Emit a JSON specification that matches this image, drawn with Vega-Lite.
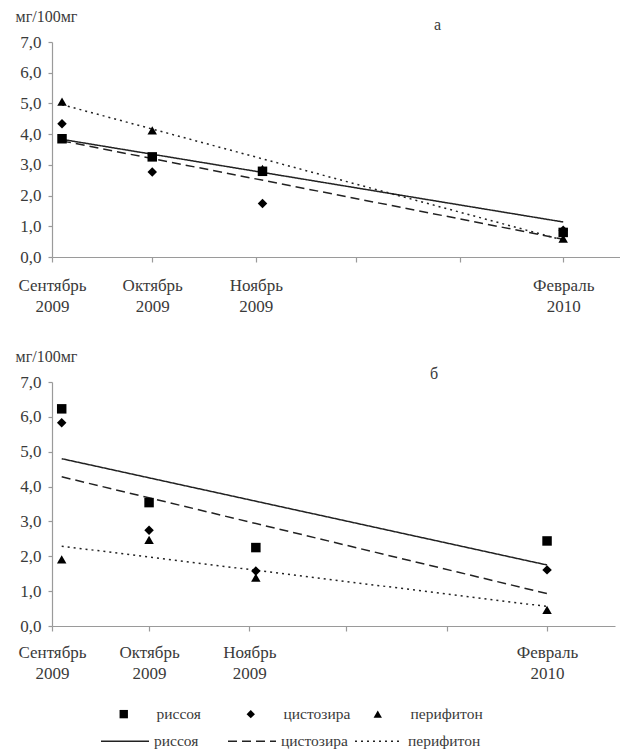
{
  "$schema": "https://vega.github.io/schema/vega-lite/v6.json",
  "background": "white",
  "padding": {"left": 15, "top": 8, "right": 0, "bottom": 0},
  "datasets": {
    "pts": [
      {"panel": "а", "species": "риссоя", "day": 3, "value": 3.85},
      {"panel": "а", "species": "риссоя", "day": 30, "value": 3.26},
      {"panel": "а", "species": "риссоя", "day": 63, "value": 2.79},
      {"panel": "а", "species": "риссоя", "day": 153, "value": 0.8},
      {"panel": "а", "species": "цистозира", "day": 3, "value": 4.34},
      {"panel": "а", "species": "цистозира", "day": 30, "value": 2.77},
      {"panel": "а", "species": "цистозира", "day": 63, "value": 1.74},
      {"panel": "а", "species": "цистозира", "day": 153, "value": 0.87},
      {"panel": "а", "species": "перифитон", "day": 3, "value": 5.06},
      {"panel": "а", "species": "перифитон", "day": 30, "value": 4.12},
      {"panel": "а", "species": "перифитон", "day": 63, "value": 2.87},
      {"panel": "а", "species": "перифитон", "day": 153, "value": 0.6},
      {"panel": "б", "species": "риссоя", "day": 3, "value": 6.23},
      {"panel": "б", "species": "риссоя", "day": 30, "value": 3.54},
      {"panel": "б", "species": "риссоя", "day": 63, "value": 2.25},
      {"panel": "б", "species": "риссоя", "day": 153, "value": 2.44},
      {"panel": "б", "species": "цистозира", "day": 3, "value": 5.83},
      {"panel": "б", "species": "цистозира", "day": 30, "value": 2.75},
      {"panel": "б", "species": "цистозира", "day": 63, "value": 1.58},
      {"panel": "б", "species": "цистозира", "day": 153, "value": 1.61},
      {"panel": "б", "species": "перифитон", "day": 3, "value": 1.91},
      {"panel": "б", "species": "перифитон", "day": 30, "value": 2.47},
      {"panel": "б", "species": "перифитон", "day": 63, "value": 1.39},
      {"panel": "б", "species": "перифитон", "day": 153, "value": 0.46}
    ],
    "trend": [
      {"panel": "а", "series": "риссоя (тренд)", "day": 3, "value": 3.83},
      {"panel": "а", "series": "риссоя (тренд)", "day": 153, "value": 1.14},
      {"panel": "а", "series": "цистозира (тренд)", "day": 3, "value": 3.78},
      {"panel": "а", "series": "цистозира (тренд)", "day": 153, "value": 0.58},
      {"panel": "а", "series": "перифитон (тренд)", "day": 3, "value": 4.96},
      {"panel": "а", "series": "перифитон (тренд)", "day": 153, "value": 0.55},
      {"panel": "б", "series": "риссоя (тренд)", "day": 3, "value": 4.8},
      {"panel": "б", "series": "риссоя (тренд)", "day": 153, "value": 1.75},
      {"panel": "б", "series": "цистозира (тренд)", "day": 3, "value": 4.28},
      {"panel": "б", "series": "цистозира (тренд)", "day": 153, "value": 0.93},
      {"panel": "б", "series": "перифитон (тренд)", "day": 3, "value": 2.29},
      {"panel": "б", "series": "перифитон (тренд)", "day": 153, "value": 0.56}
    ]
  },
  "config": {
    "font": "Liberation Serif, Times New Roman, serif",
    "view": {"stroke": null},
    "axis": {
      "domainColor": "#9a9a9a",
      "tickColor": "#9a9a9a",
      "domainWidth": 1.2,
      "tickWidth": 1.2,
      "labelColor": "#3a3a3a",
      "labelFont": "Liberation Serif, Times New Roman, serif",
      "labelFontSize": 17,
      "titleFont": "Liberation Serif, Times New Roman, serif",
      "titleColor": "#3a3a3a",
      "grid": false
    },
    "legend": {
      "labelFont": "Liberation Serif, Times New Roman, serif",
      "labelFontSize": 15.5,
      "labelColor": "#3a3a3a",
      "padding": 0
    },
    "title": {"font": "Liberation Serif, Times New Roman, serif", "fontSize": 16, "fontWeight": "normal", "color": "#3a3a3a"},
    "concat": {"spacing": 34}
  },
  "resolve": {"scale": {"shape": "shared", "strokeDash": "shared", "strokeWidth": "shared"}},
  "vconcat": [
    {
      "width": 568,
      "height": 215,
      "title": {"text": "а", "anchor": "start", "frame": "group", "dx": 382, "offset": -25},
      "encoding": {
        "x": {"field": "day", "type": "quantitative", "scale": {"domain": [0, 170], "nice": false, "zero": false},
          "axis": {"values": [0, 30, 61, 91, 122, 153], "title": null, "tickSize": 5, "labelPadding": 15, "labelLineHeight": 21, "labelOverlap": false, "labelFlush": false,
            "labelExpr": "datum.value == 0 ? ['Сентябрь','2009'] : datum.value == 30 ? ['Октябрь','2009'] : datum.value == 61 ? ['Ноябрь','2009'] : datum.value == 153 ? ['Февраль','2010'] : ''"}},
        "y": {"field": "value", "type": "quantitative", "scale": {"domain": [0, 7], "nice": false},
          "axis": {"values": [0, 1, 2, 3, 4, 5, 6, 7], "tickCount": 8, "tickSize": 4, "labelPadding": 7, "labelOverlap": false, "labelExpr": "replace(format(datum.value, '.1f'), '.', ',')",
            "title": "мг/100мг", "titleAngle": 0, "titleAlign": "left", "titleBaseline": "alphabetic", "titleX": -37, "titleY": -21, "titleFontSize": 16, "titleFontWeight": "normal"}}
      },
      "layer": [
        {
          "data": {"name": "trend"},
          "transform": [{"filter": "datum.panel === 'а'"}],
          "mark": {"type": "line", "color": "#222222"},
          "encoding": {
            "strokeDash": {"field": "series", "type": "nominal",
              "scale": {"domain": ["риссоя (тренд)", "цистозира (тренд)", "перифитон (тренд)"], "range": [[1, 0], [9, 5], [2, 4]]},
              "legend": {"orient": "none", "legendX": 48, "legendY": 674, "direction": "horizontal", "columns": 3, "title": null,
                "labelExpr": "split(datum.label, ' ')[0]",
                "symbolType": "stroke", "symbolSize": 2304, "symbolStrokeWidth": 1.5, "symbolStrokeColor": "#222222", "labelOffset": 4, "columnPadding": -4, "gridAlign": "all"}},
            "strokeWidth": {"field": "series", "type": "nominal",
              "scale": {"domain": ["риссоя (тренд)", "цистозира (тренд)", "перифитон (тренд)"], "range": [1.5, 1.5, 2]}, "legend": null}
          }
        },
        {
          "data": {"name": "pts"},
          "transform": [{"filter": "datum.panel === 'а'"}],
          "mark": {"type": "point", "filled": true, "color": "black", "opacity": 1, "size": 90},
          "encoding": {
            "shape": {"field": "species", "type": "nominal",
              "scale": {"domain": ["риссоя", "цистозира", "перифитон"], "range": ["square", "diamond", "triangle-up"]},
              "legend": {"orient": "none", "legendX": 64, "legendY": 664, "direction": "horizontal", "columns": 3, "title": null,
                "symbolSize": 70, "symbolFillColor": "black", "symbolStrokeColor": "black", "labelOffset": 25, "columnPadding": 14, "gridAlign": "all"}}
          }
        }
      ]
    },
    {
      "width": 563,
      "height": 244,
      "title": {"text": "б", "anchor": "start", "frame": "group", "dx": 378, "offset": -34},
      "encoding": {
        "x": {"field": "day", "type": "quantitative", "scale": {"domain": [0, 174], "nice": false, "zero": false},
          "axis": {"values": [0, 30, 61, 91, 122, 153], "title": null, "tickSize": 5, "labelPadding": 13, "labelLineHeight": 21, "labelOverlap": false, "labelFlush": false,
            "labelExpr": "datum.value == 0 ? ['Сентябрь','2009'] : datum.value == 30 ? ['Октябрь','2009'] : datum.value == 61 ? ['Ноябрь','2009'] : datum.value == 153 ? ['Февраль','2010'] : ''"}},
        "y": {"field": "value", "type": "quantitative", "scale": {"domain": [0, 7], "nice": false},
          "axis": {"values": [0, 1, 2, 3, 4, 5, 6, 7], "tickCount": 8, "tickSize": 4, "labelPadding": 7, "labelOverlap": false, "labelExpr": "replace(format(datum.value, '.1f'), '.', ',')",
            "title": "мг/100мг", "titleAngle": 0, "titleAlign": "left", "titleBaseline": "alphabetic", "titleX": -37, "titleY": -21, "titleFontSize": 16, "titleFontWeight": "normal"}}
      },
      "layer": [
        {
          "data": {"name": "trend"},
          "transform": [{"filter": "datum.panel === 'б'"}],
          "mark": {"type": "line", "color": "#222222"},
          "encoding": {
            "strokeDash": {"field": "series", "type": "nominal"},
            "strokeWidth": {"field": "series", "type": "nominal", "legend": null}
          }
        },
        {
          "data": {"name": "pts"},
          "transform": [{"filter": "datum.panel === 'б'"}],
          "mark": {"type": "point", "filled": true, "color": "black", "opacity": 1, "size": 90},
          "encoding": {
            "shape": {"field": "species", "type": "nominal"}
          }
        }
      ]
    }
  ]
}
